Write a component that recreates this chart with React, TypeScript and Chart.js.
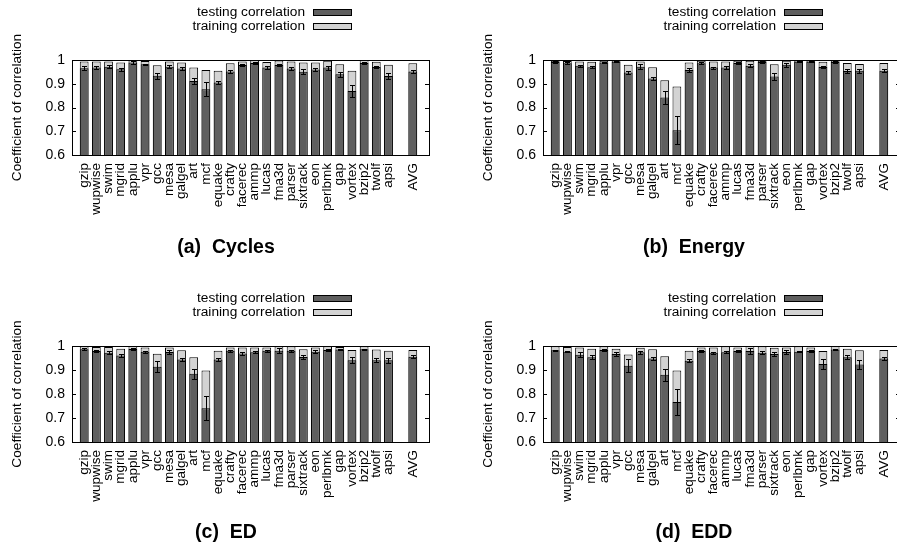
import React, { useEffect, useRef } from "react";
import { Chart, registerables } from "chart.js";

Chart.register(...registerables);

// ---------- data ----------
const CATEGORIES = [
  "gzip", "wupwise", "swim", "mgrid", "applu", "vpr", "gcc", "mesa", "galgel", "art",
  "mcf", "equake", "crafty", "facerec", "ammp", "lucas", "fma3d", "parser", "sixtrack", "eon",
  "perlbmk", "gap", "vortex", "bzip2", "twolf", "apsi", "", "AVG",
];

const Y_TICKS = [0.6, 0.7, 0.8, 0.9, 1];

const SERIES_LABELS = ["testing correlation", "training correlation"];

// (a) Cycles
const cyclesTrain = [0.994, 0.994, 0.994, 0.989, 0.999, 0.996, 0.978, 0.994, 0.99, 0.968, 0.958, 0.955, 0.986, 0.994, 0.999, 0.992, 0.998, 0.994, 0.99, 0.99, 0.997, 0.982, 0.955, 1.0, 0.993, 0.98, null, 0.986];
const cyclesTest = [0.965, 0.968, 0.972, 0.961, 0.989, 0.982, 0.934, 0.972, 0.964, 0.912, 0.877, 0.905, 0.952, 0.979, 0.987, 0.968, 0.979, 0.964, 0.951, 0.96, 0.968, 0.94, 0.87, 0.987, 0.971, 0.933, null, 0.952];
const cyclesErr = [0.008, 0.005, 0.006, 0.006, 0.007, 0.003, 0.012, 0.007, 0.006, 0.013, 0.029, 0.007, 0.007, 0.004, 0.003, 0.005, 0.006, 0.007, 0.01, 0.006, 0.008, 0.01, 0.025, 0.003, 0.005, 0.012, null, 0.008];

// (b) Energy
const energyTrain = [0.997, 0.996, 0.994, 0.993, 0.997, 0.998, 0.98, 0.994, 0.969, 0.915, 0.888, 0.989, 0.997, 0.994, 0.994, 0.997, 0.997, 0.997, 0.982, 0.997, 0.998, 0.998, 0.993, 0.998, 0.987, 0.983, null, 0.987];
const energyTest = [0.992, 0.986, 0.976, 0.969, 0.99, 0.993, 0.947, 0.972, 0.922, 0.842, 0.704, 0.958, 0.986, 0.968, 0.968, 0.987, 0.976, 0.992, 0.931, 0.98, 0.993, 0.993, 0.971, 0.992, 0.954, 0.955, null, 0.955];
const energyErr = [0.003, 0.004, 0.004, 0.004, 0.003, 0.003, 0.007, 0.01, 0.007, 0.028, 0.059, 0.008, 0.004, 0.004, 0.005, 0.003, 0.007, 0.003, 0.015, 0.008, 0.002, 0.002, 0.005, 0.003, 0.008, 0.008, null, 0.007];

// (c) ED
const edTrain = [0.999, 0.996, 0.996, 0.989, 1.0, 0.994, 0.968, 0.994, 0.982, 0.953, 0.898, 0.98, 0.994, 0.994, 0.994, 0.994, 0.999, 0.999, 0.986, 0.994, 0.999, 0.996, 0.983, 0.999, 0.985, 0.98, null, 0.983];
const edTest = [0.986, 0.979, 0.972, 0.96, 0.987, 0.976, 0.914, 0.975, 0.944, 0.884, 0.741, 0.944, 0.98, 0.969, 0.974, 0.98, 0.98, 0.98, 0.954, 0.976, 0.983, 0.985, 0.941, 0.986, 0.941, 0.941, null, 0.955];
const edErr = [0.004, 0.003, 0.006, 0.005, 0.004, 0.005, 0.022, 0.007, 0.006, 0.02, 0.05, 0.006, 0.005, 0.005, 0.004, 0.004, 0.01, 0.004, 0.01, 0.006, 0.003, 0.003, 0.012, 0.003, 0.008, 0.01, null, 0.006];

// (d) EDD
const eddTrain = [0.999, 0.996, 0.994, 0.989, 0.999, 0.989, 0.965, 0.993, 0.986, 0.957, 0.898, 0.98, 0.994, 0.994, 0.999, 0.994, 1.0, 0.999, 0.993, 0.994, 0.999, 0.994, 0.979, 1.0, 0.989, 0.982, null, 0.983];
const eddTest = [0.982, 0.976, 0.964, 0.953, 0.983, 0.967, 0.918, 0.974, 0.948, 0.88, 0.767, 0.939, 0.979, 0.972, 0.974, 0.979, 0.979, 0.972, 0.967, 0.975, 0.976, 0.979, 0.925, 0.985, 0.953, 0.923, null, 0.948];
const eddErr = [0.003, 0.003, 0.009, 0.008, 0.005, 0.007, 0.028, 0.006, 0.007, 0.025, 0.055, 0.006, 0.006, 0.004, 0.004, 0.004, 0.012, 0.006, 0.007, 0.007, 0.003, 0.003, 0.02, 0.003, 0.008, 0.02, null, 0.008];

// ---------- styling / layout ----------
const DARK = "#5f5f5f";
const LIGHT = "#d3d3d3";
const FONT_FAMILY = "'Liberation Sans', Arial, Helvetica, sans-serif";
const CANVAS_W = 920;
const CANVAS_H = 546;
const Y_AXIS_W = 70;
const X_AXIS_H = 95;

type PanelCfg = {
  caption: string;
  train: (number | null)[];
  test: (number | null)[];
  err: (number | null)[];
  area: { l: number; r: number; t: number; b: number };
  captionPos: { x: number; y: number };
};

const PANELS: PanelCfg[] = [
  { caption: "(a)  Cycles", train: cyclesTrain, test: cyclesTest, err: cyclesErr, area: { l: 72, r: 429, t: 60, b: 155 }, captionPos: { x: 226, y: 248 } },
  { caption: "(b)  Energy", train: energyTrain, test: energyTest, err: energyErr, area: { l: 543, r: 900, t: 60, b: 155 }, captionPos: { x: 694, y: 248 } },
  { caption: "(c)  ED", train: edTrain, test: edTest, err: edErr, area: { l: 72, r: 429, t: 346, b: 442 }, captionPos: { x: 226, y: 533 } },
  { caption: "(d)  EDD", train: eddTrain, test: eddTest, err: eddErr, area: { l: 543, r: 900, t: 346, b: 442 }, captionPos: { x: 694, y: 533 } },
];

function toPoints(values: (number | null)[]) {
  return values
    .map((v, i) => ({ x: i, y: v }))
    .filter((p) => p.y !== null) as { x: number; y: number }[];
}

function Panel({ cfg }: { cfg: PanelCfg }) {
  const ref = useRef<HTMLCanvasElement>(null);

  useEffect(() => {
    const canvas = ref.current;
    if (!canvas) return;
    const { area } = cfg;

    const overlay = {
      id: "overlay",
      afterDatasetsDraw(chart: any) {
        const ctx: CanvasRenderingContext2D = chart.ctx;
        const xs = chart.scales.x;
        const ys = chart.scales.y;
        const { left, right, top, bottom } = chart.chartArea;
        ctx.save();
        ctx.strokeStyle = "#000";
        ctx.lineWidth = 1;

        // error bars on testing series
        ctx.save();
        ctx.beginPath();
        ctx.rect(left, top, right - left, bottom - top);
        ctx.clip();
        cfg.test.forEach((v, i) => {
          const e = cfg.err[i];
          if (v === null || e === null) return;
          const x = Math.round(xs.getPixelForValue(i)) + 0.5;
          const y1 = Math.round(ys.getPixelForValue(v + e)) + 0.5;
          const y2 = Math.round(ys.getPixelForValue(v - e)) + 0.5;
          ctx.beginPath();
          ctx.moveTo(x, y1);
          ctx.lineTo(x, y2);
          ctx.moveTo(x - 2.5, y1);
          ctx.lineTo(x + 2.5, y1);
          ctx.moveTo(x - 2.5, y2);
          ctx.lineTo(x + 2.5, y2);
          ctx.stroke();
        });
        ctx.restore();

        // frame
        ctx.strokeRect(Math.round(left) + 0.5, Math.round(top) + 0.5, Math.round(right - left), Math.round(bottom - top));
        // inward tick marks
        ctx.beginPath();
        Y_TICKS.forEach((t) => {
          const y = Math.round(ys.getPixelForValue(t)) + 0.5;
          ctx.moveTo(left, y);
          ctx.lineTo(left + 4, y);
          ctx.moveTo(right, y);
          ctx.lineTo(right - 4, y);
        });
        ctx.stroke();

        // legend
        ctx.font = `13.7px ${FONT_FAMILY}`;
        ctx.textAlign = "right";
        ctx.textBaseline = "middle";
        const fills = [DARK, LIGHT];
        SERIES_LABELS.forEach((lab, k) => {
          const y = top - 48 + k * 14;
          ctx.fillStyle = "#000";
          ctx.fillText(lab, left + 233, y);
          ctx.fillStyle = fills[k];
          const bx = Math.round(left + 241) + 0.5;
          const by = Math.round(y - 3) + 0.5;
          ctx.fillRect(bx, by, 38, 6);
          ctx.strokeRect(bx, by, 38, 6);
        });

        // y axis title
        ctx.save();
        ctx.translate(left - 55, (top + bottom) / 2);
        ctx.rotate(-Math.PI / 2);
        ctx.textAlign = "center";
        ctx.textBaseline = "middle";
        ctx.fillStyle = "#000";
        ctx.fillText("Coefficient of correlation", 0, 0);
        ctx.restore();

        // caption
        ctx.font = `bold 19.5px ${FONT_FAMILY}`;
        ctx.textAlign = "center";
        ctx.textBaseline = "middle";
        ctx.fillStyle = "#000";
        ctx.fillText(cfg.caption, cfg.captionPos.x, cfg.captionPos.y);

        ctx.restore();
      },
    };

    const barCommon = {
      borderColor: "#000",
      borderWidth: 1,
      grouped: false,
      categoryPercentage: 1,
      barPercentage: 0.72,
    };

    const chart = new Chart(canvas, {
      type: "bar",
      data: {
        datasets: [
          { label: SERIES_LABELS[0], data: toPoints(cfg.test), backgroundColor: DARK, ...barCommon } as any,
          { label: SERIES_LABELS[1], data: toPoints(cfg.train), backgroundColor: LIGHT, ...barCommon } as any,
        ],
      },
      options: {
        animation: false,
        responsive: false,
        maintainAspectRatio: false,
        layout: {
          padding: {
            left: area.l - Y_AXIS_W,
            top: area.t,
            right: CANVAS_W - area.r,
            bottom: CANVAS_H - area.b - X_AXIS_H,
          },
        },
        plugins: { legend: { display: false }, tooltip: { enabled: false }, title: { display: false } },
        scales: {
          x: {
            type: "linear",
            min: -1,
            max: 28.33,
            offset: false,
            grid: { display: false, drawTicks: false },
            border: { display: false },
            afterBuildTicks: (scale: any) => {
              scale.ticks = CATEGORIES.map((_, i) => ({ value: i }));
            },
            afterFit: (scale: any) => {
              scale.height = X_AXIS_H;
            },
            ticks: {
              autoSkip: false,
              maxRotation: 90,
              minRotation: 90,
              padding: 8,
              color: "#000",
              font: { family: FONT_FAMILY, size: 13.5 },
              callback: (v: any) => CATEGORIES[Math.round(Number(v))] ?? "",
            },
          },
          y: {
            min: 0.6,
            max: 1,
            grid: { display: false, drawTicks: false },
            border: { display: false },
            afterBuildTicks: (scale: any) => {
              scale.ticks = Y_TICKS.map((v) => ({ value: v }));
            },
            afterFit: (scale: any) => {
              scale.width = Y_AXIS_W;
            },
            ticks: {
              padding: 7,
              color: "#000",
              font: { family: FONT_FAMILY, size: 14 },
              callback: (v: any) => String(Number(Number(v).toFixed(1))),
            },
          },
        },
      } as any,
      plugins: [overlay],
    });

    return () => chart.destroy();
  }, [cfg]);

  return (
    <canvas
      ref={ref}
      width={CANVAS_W}
      height={CANVAS_H}
      style={{ position: "absolute", left: 0, top: 0, width: CANVAS_W, height: CANVAS_H }}
    />
  );
}

export default function App() {
  return (
    <div
      style={{
        position: "absolute",
        left: 0,
        top: 0,
        width: 897,
        height: 546,
        overflow: "hidden",
        background: "#fff",
      }}
    >
      {PANELS.map((p) => (
        <Panel key={p.caption} cfg={p} />
      ))}
    </div>
  );
}
